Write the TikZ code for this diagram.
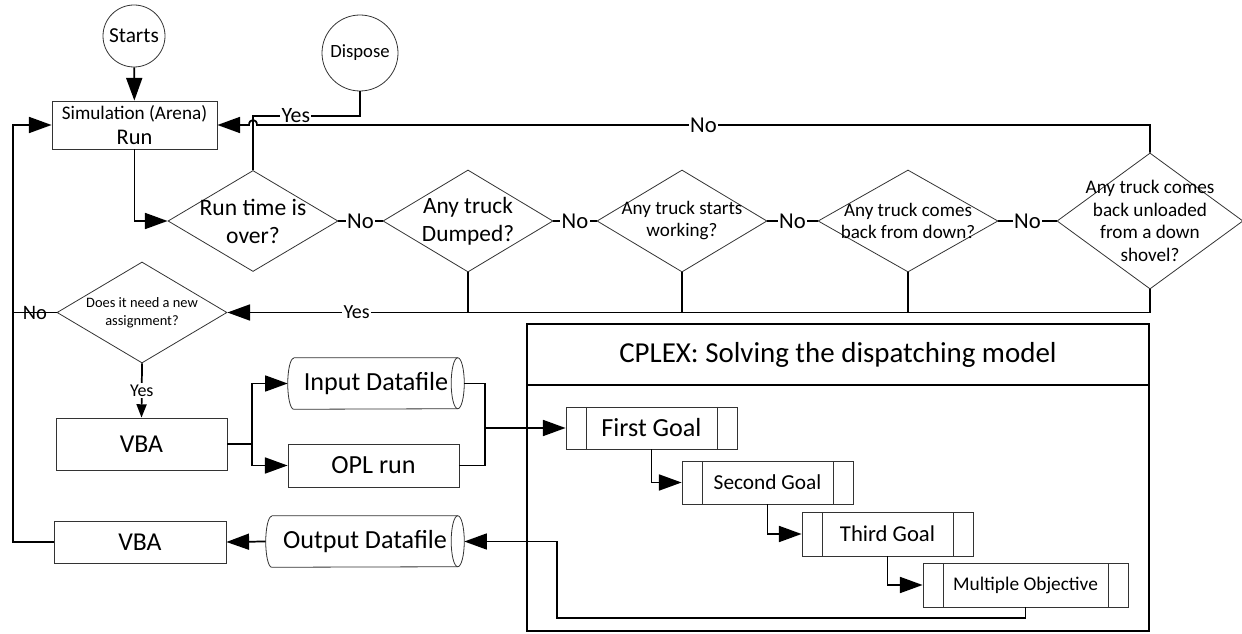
\documentclass[tikz,border=0pt]{standalone}
\usepackage{fontspec}
\setmainfont{Carlito}
\usetikzlibrary{shapes.geometric,arrows.meta,calc}
\newcommand\setfs[2]{\fontsize{#1}{#2}\selectfont}
% horizontal data-store outline drawn around a named rectangle node
\newcommand\drawdatafile[1]{%
  \draw[outl] ([xshift=4.5pt]#1.north west) -- ([xshift=-4.9pt]#1.north east)
     arc[start angle=90, end angle=-90, x radius=4.9pt, y radius=19.125pt]
     -- ([xshift=4.5pt]#1.south west)
     arc[start angle=270, end angle=90, x radius=4.5pt, y radius=19.125pt];
  \draw[outl] ([xshift=-4.9pt]#1.north east)
     arc[start angle=90, end angle=270, x radius=4.9pt, y radius=19.125pt];}

\begin{document}
\begin{tikzpicture}[x=0.75pt,y=-0.75pt,
  outl/.style={draw=black!80, line width=0.6pt},
  box/.style={outl, rectangle, inner sep=0pt, align=center},
  dia/.style={outl, diamond, inner sep=0pt},
  dtxt/.style={align=center, inner sep=0pt},
  circ/.style={outl, circle, inner sep=0pt},
  store/.style={rectangle, inner sep=0pt, minimum height=38.25pt},
  proc/.style={box, path picture={
     \draw[black!80, line width=0.6pt] ([xshift=15pt]path picture bounding box.north west) -- ([xshift=15pt]path picture bounding box.south west);
     \draw[black!80, line width=0.6pt] ([xshift=-15pt]path picture bounding box.north east) -- ([xshift=-15pt]path picture bounding box.south east);}},
  conn/.style={line width=1.3pt},
  arr/.style={conn, -{Triangle[length=17pt,width=12pt]}},
  thinc/.style={line width=0.8pt},
  lbl/.style={fill=white, inner sep=1pt},
]
\useasboundingbox (0,0) rectangle (1242,634);

% CPLEX container
\node[rectangle, draw, line width=1.3pt, minimum width=466.5pt, minimum height=45.75pt,
      font=\setfs{21.7}{26}] (head) at (838,354.5) {CPLEX: Solving the dispatching model};
\node[rectangle, draw, line width=1.3pt, minimum width=466.5pt, minimum height=184.5pt] (body) at (838,508) {};

% terminators
\node[circ, minimum size=46.5pt, font=\setfs{16}{19}] (starts) at (134,36) {Starts};
\node[circ, minimum size=57pt, font=\setfs{14}{17}] (dispose) at (360,53) {Dispose};

% simulation
\node[box, minimum width=123.75pt, minimum height=36pt] (sim) at (134.5,125)
  {\setfs{14.4}{17}Simulation (Arena)\\[5pt]\setfs{16.8}{20}Run};

% decisions
\node[dia, minimum width=127.5pt, minimum height=75.75pt] (rt) at (253,221) {};
\node[dtxt, font=\setfs{17.7}{21}] (rtT) at (rt) {Run time is\\over?};
\node[dia, minimum width=127.5pt, minimum height=76.5pt] (dump) at (468,221) {};
\node[dtxt, font=\setfs{17.5}{21}] (dumpT) at (dump) {Any truck\\Dumped?};
\node[dia, minimum width=127.5pt, minimum height=76.5pt] (work) at (682,221) {};
\node[dtxt, font=\setfs{14.3}{16.5}] (workT) at (work) {Any truck starts\\working?};
\node[dia, minimum width=135pt, minimum height=76.5pt] (back) at (908,221) {};
\node[dtxt, font=\setfs{14.3}{16.5}] (backT) at (back) {Any truck comes\\back from down?};
\node[dia, minimum width=139.5pt, minimum height=102pt] (unl) at (1150,221) {};
\node[dtxt, font=\setfs{14.4}{17}] (unlT) at (unl) {Any truck comes\\back unloaded\\from a down\\shovel?};
\node[dia, minimum width=127.5pt, minimum height=75.75pt] (need) at (142,312.5) {};
\node[dtxt, font=\setfs{10.8}{13.5}] (needT) at (need) {Does it need a new\\assignment?};

% processing
\node[box, minimum width=128.25pt, minimum height=39pt, font=\setfs{19.3}{23}] (vba1) at (141.5,444) {VBA};
\node[store, minimum width=132pt, font=\setfs{19.6}{23}] (inp) at (376,383.5) {Input Datafile};
\drawdatafile{inp}
\node[box, minimum width=128.25pt, minimum height=32.25pt, font=\setfs{19.6}{23}] (opl) at (373.5,465.5) {OPL run};
\node[store, minimum width=148.5pt, font=\setfs{19.6}{23}] (out) at (365,541.5) {Output Datafile};
\drawdatafile{out}
\node[box, minimum width=129pt, minimum height=31.5pt, font=\setfs{19.3}{23}] (vba2) at (140,542) {VBA};

% goals
\node[proc, minimum width=128.25pt, minimum height=31.5pt, font=\setfs{19.6}{23}] (g1) at (651.5,428) {First Goal};
\node[proc, minimum width=128.25pt, minimum height=32.25pt, font=\setfs{16}{19}] (g2) at (767.5,482.5) {Second Goal};
\node[proc, minimum width=128.25pt, minimum height=33pt, font=\setfs{17}{20}] (g3) at (887.5,534) {Third Goal};
\node[proc, minimum width=153.75pt, minimum height=33pt, font=\setfs{14.5}{17}] (g4) at (1025.5,585) {Multiple Objective};

% routing points
\coordinate (ydisp) at (360,116);
\coordinate (hop) at (rt.north |- sim.east);
\coordinate (topR) at (unl.north |- sim.east);
\coordinate (lx) at (13,125);
\coordinate (br) at (252,444);
\coordinate (jn) at (485,428);
\coordinate (c1) at (557,618);

% connectors
\draw[arr] (starts) -- (sim);
\draw[arr] (sim.south) |- (rt.west);
\draw[conn] (rt.north) |- node[lbl, pos=0.7, font=\setfs{16.4}{19}] {Yes} (ydisp) -- (dispose.south);
\draw[arr] (unl.north) -- (topR) -- node[lbl, font=\setfs{17}{20}] {No} ([xshift=3pt]hop)
  .. controls ([xshift=3pt,yshift=5pt]hop) and ([xshift=-3pt,yshift=5pt]hop) .. ([xshift=-3pt]hop) -- (sim.east);

\draw[thinc] (rt.east) -- node[lbl, font=\setfs{17}{20}] {No} (dump.west);
\draw[thinc] (dump.east) -- node[lbl, font=\setfs{17}{20}] {No} (work.west);
\draw[thinc] (work.east) -- node[lbl, font=\setfs{17}{20}] {No} (back.west);
\draw[thinc] (back.east) -- node[lbl, font=\setfs{17}{20}] {No} (unl.west);

\draw[arr] (unl.south) |- node[lbl, pos=0.93, font=\setfs{15}{18}] {Yes} (need.east);
\foreach \n in {dump,work,back} \draw[conn] (\n.south) -- (\n.south |- need.east);

\draw[conn] (need.west) -- node[inner sep=0pt, font=\setfs{15.4}{18}] {No} (need.west -| lx);
\draw[arr] (vba2.west) -| (lx) -- (sim.west);
\draw[conn, -{Triangle[length=10pt,width=7.5pt]}] (need.south) -- node[lbl, font=\setfs{13.5}{16}] {Yes} (vba1.north);

\draw[conn] (vba1.east) -- (br);
\draw[arr] (br) |- (inp.west);
\draw[arr] (br) |- (opl.west);
\draw[conn] (inp.east) -| (jn);
\draw[conn] (opl.east) -| (jn);
\draw[arr] (jn) -- (g1.west);

\draw[arr] (g1.south) |- (g2.west);
\draw[arr] (g2.south) |- (g3.west);
\draw[arr] (g3.south) |- (g4.west);
\draw[arr] (g4.south) |- (c1) |- (out.east);
\draw[arr] (out.west) -- (vba2.east);
\end{tikzpicture}
\end{document}
